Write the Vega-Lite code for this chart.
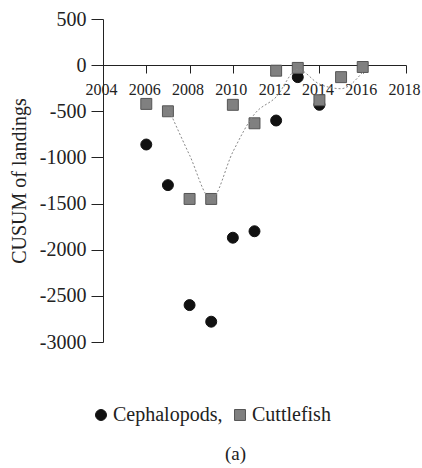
{
  "$schema": "https://vega.github.io/schema/vega-lite/v6.json",
  "width": 303,
  "height": 323,
  "padding": {"left": 9, "top": 9, "right": 5, "bottom": 5},
  "background": "white",
  "config": {
    "view": {"stroke": null},
    "font": "Liberation Serif",
    "axis": {"labelFont": "Liberation Serif", "titleFont": "Liberation Serif", "labelColor": "#222", "titleColor": "#222", "domainColor": "#222", "tickColor": "#222", "grid": false},
    "legend": {"labelFont": "Liberation Serif"}
  },
  "title": {"text": "(a)", "orient": "bottom", "anchor": "middle", "fontSize": 19, "font": "Liberation Serif", "fontWeight": "normal", "color": "#222", "offset": 20, "dx": -19},
  "data": {"values": [
    {"year": 2006, "series": "Cephalopods", "value": -860},
    {"year": 2007, "series": "Cephalopods", "value": -1300},
    {"year": 2008, "series": "Cephalopods", "value": -2600},
    {"year": 2009, "series": "Cephalopods", "value": -2780},
    {"year": 2010, "series": "Cephalopods", "value": -1870},
    {"year": 2011, "series": "Cephalopods", "value": -1800},
    {"year": 2012, "series": "Cephalopods", "value": -600},
    {"year": 2013, "series": "Cephalopods", "value": -130},
    {"year": 2014, "series": "Cephalopods", "value": -430},
    {"year": 2006, "series": "Cuttlefish", "value": -420},
    {"year": 2007, "series": "Cuttlefish", "value": -500, "trend": -460},
    {"year": 2008, "series": "Cuttlefish", "value": -1450, "trend": -975},
    {"year": 2009, "series": "Cuttlefish", "value": -1450, "trend": -1450},
    {"year": 2010, "series": "Cuttlefish", "value": -430, "trend": -940},
    {"year": 2011, "series": "Cuttlefish", "value": -630, "trend": -530},
    {"year": 2012, "series": "Cuttlefish", "value": -60, "trend": -345},
    {"year": 2013, "series": "Cuttlefish", "value": -30, "trend": -45},
    {"year": 2014, "series": "Cuttlefish", "value": -380, "trend": -205},
    {"year": 2015, "series": "Cuttlefish", "value": -130, "trend": -255},
    {"year": 2016, "series": "Cuttlefish", "value": -20, "trend": -75}
  ]},
  "layer": [
    {
      "mark": {"type": "point", "filled": true, "size": 120, "opacity": 1},
      "encoding": {
        "x": {"field": "year", "type": "quantitative",
          "scale": {"domain": [2004, 2018], "nice": false, "zero": false},
          "axis": {"orient": "bottom", "offset": -277, "values": [2004, 2006, 2008, 2010, 2012, 2014, 2016, 2018], "format": "d", "title": null, "labelFont": "Liberation Serif", "labelFontSize": 16, "labelOverlap": false, "labelBound": false, "labelFlush": false, "labelOffset": -2, "tickSize": 8, "labelPadding": 8}},
        "y": {"field": "value", "type": "quantitative",
          "scale": {"domain": [-3000, 500], "nice": false, "zero": false},
          "axis": {"values": [500, 0, -500, -1000, -1500, -2000, -2500, -3000], "labelExpr": "'' + datum.value", "labelOverlap": false, "labelFlush": false, "title": "CUSUM of landings", "titleFont": "Liberation Serif", "labelFont": "Liberation Serif", "titleFontSize": 20, "titleFontWeight": "normal", "labelFontSize": 20, "tickSize": 12, "labelPadding": 5, "titlePadding": 10}},
        "shape": {"field": "series", "type": "nominal", "scale": {"domain": ["Cephalopods", "Cuttlefish"], "range": ["circle", "square"]},
          "legend": {"orient": "none", "legendX": -12, "legendY": 386, "direction": "horizontal", "title": null, "labelFont": "Liberation Serif", "labelFontSize": 20, "labelColor": "#222", "symbolSize": 120, "symbolStrokeWidth": 1, "columnPadding": 7, "labelOffset": 2, "labelExpr": "datum.label == 'Cephalopods' ? 'Cephalopods,' : datum.label"}},
        "color": {"field": "series", "type": "nominal", "scale": {"domain": ["Cephalopods", "Cuttlefish"], "range": ["#111111", "#808080"]}},
        "stroke": {"field": "series", "type": "nominal", "scale": {"domain": ["Cephalopods", "Cuttlefish"], "range": ["#111111", "#555555"]}},
        "strokeWidth": {"value": 1}
      }
    },
    {
      "transform": [{"filter": "isValid(datum.trend)"}],
      "mark": {"type": "line", "interpolate": "monotone", "color": "#888888", "strokeWidth": 1, "strokeDash": [2, 2]},
      "encoding": {
        "x": {"field": "year", "type": "quantitative"},
        "y": {"field": "trend", "type": "quantitative"}
      }
    }
  ]
}
